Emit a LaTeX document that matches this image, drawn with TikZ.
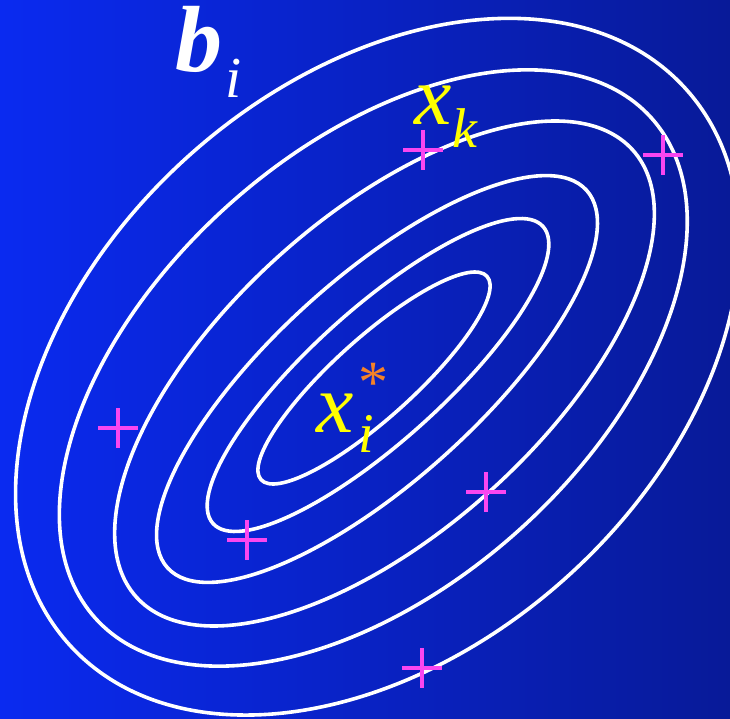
\documentclass[tikz,border=0pt]{standalone}
\usepackage{fontspec}
\setmainfont{Liberation Serif}
\definecolor{bgL}{RGB}{10,42,240}
\definecolor{bgR}{RGB}{8,26,152}
\definecolor{ylw}{RGB}{255,255,0}
\definecolor{org}{RGB}{245,130,40}
\definecolor{mag}{RGB}{250,70,240}
\tikzset{
  ring/.style={draw=white, line width=3.6pt},
  plusmark/.style={draw=mag, line width=4.5pt},
  pluspic/.pic={\draw[plusmark] (-20,0) -- (20,0) (0,-20) -- (0,20);},
  lbl/.style={anchor=base west, inner sep=0pt}
}
\begin{document}
\begin{tikzpicture}[x=1pt,y=-1pt]
\useasboundingbox (0,0) rectangle (730,719);
\shade[left color=bgL, right color=bgR] (0,0) rectangle (730,719);
\begin{scope}
\clip (0,0) rectangle (730,719);
\draw[ring, rotate around={42:(377.5,366.7)}] (377.5,366.7) ellipse [x radius=415, y radius=283];
\draw[ring, rotate around={42:(373.3,368)}] (373.3,368) ellipse [x radius=374, y radius=218];
\draw[ring, rotate around={42:(384.5,373.5)}] (384.5,373.5) ellipse [x radius=334, y radius=158];
\draw[ring, rotate around={42:(377,379)}] (377,379) ellipse [x radius=282, y radius=102];
\draw[ring, rotate around={42:(378,375)}] (378,375) ellipse [x radius=222, y radius=66];
\draw[ring, rotate around={42:(374,378)}] (374,378) ellipse [x radius=152, y radius=40];
\end{scope}
% plus markers
\pic at (423,150) {pluspic};
\pic at (663,155) {pluspic};
\pic at (118,428) {pluspic};
\pic at (247,540) {pluspic};
\pic at (486,492) {pluspic};
\pic at (422,668) {pluspic};
% labels
\node[lbl, text height=62pt, text=white, font=\fontsize{94}{94}\selectfont\bfseries\itshape] (b) at (175,72) {b};
\node[lbl, text height=38pt, text=white, font=\fontsize{58}{58}\selectfont\itshape] (bi) at (225,98) {i};
\node[lbl, text height=40pt, text=ylw, font=\fontsize{84}{84}\selectfont\itshape] (xk) at (414,125) {x};
\node[lbl, text height=38pt, text=ylw, font=\fontsize{56}{56}\selectfont\itshape] (k) at (452,148) {k};
\node[lbl, text height=40pt, text=ylw, font=\fontsize{84}{84}\selectfont\itshape] (xi) at (316,432) {x};
\node[lbl, text height=36pt, text=ylw, font=\fontsize{56}{56}\selectfont\itshape] (ii) at (358,452) {i};
\node[inner sep=0pt, text=org, font=\fontsize{60}{60}\selectfont] (star) at (373,383) {*};
\end{tikzpicture}
\end{document}
